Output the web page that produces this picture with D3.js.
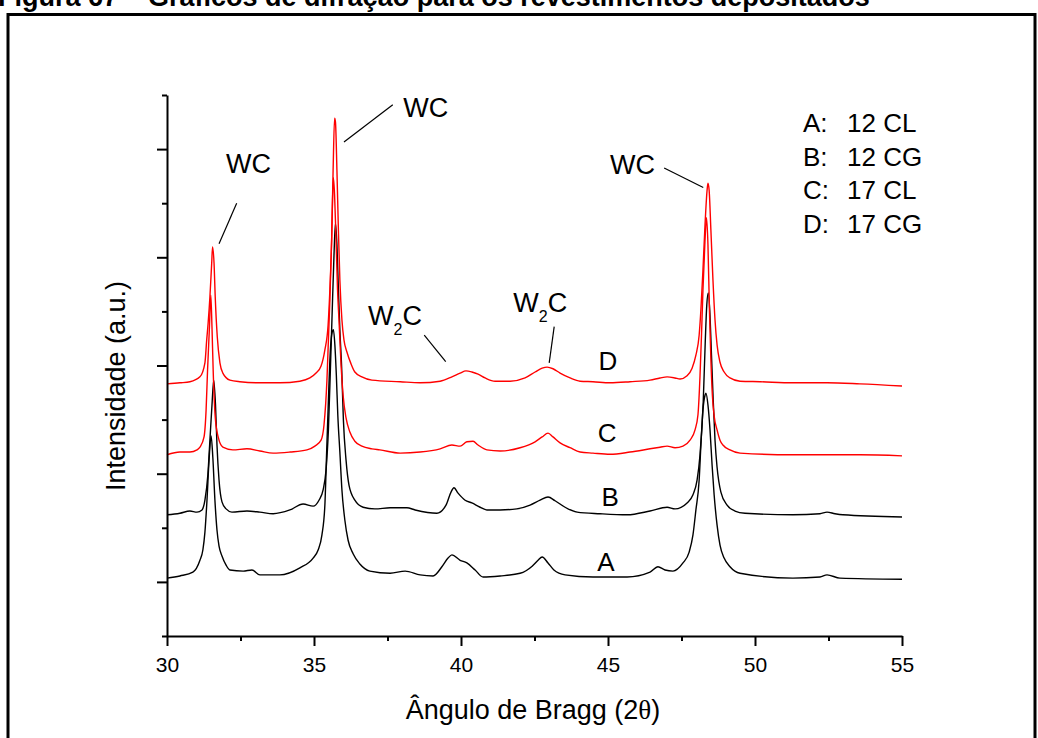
<!DOCTYPE html>
<html><head><meta charset="utf-8">
<script src="https://cdn.jsdelivr.net/npm/d3@7"></script>
<style>
html,body{margin:0;padding:0;background:#fff;}
svg{display:block;font-family:"Liberation Sans",Arial,sans-serif;}
</style></head><body>
<svg id="chart" width="1038" height="738"></svg>
<script>
// ---- data (2θ in degrees, intensity in arbitrary units, curves offset) ----
const xTicks = [30, 35, 40, 45, 50, 55];
const xMinorTicks = [32.5, 37.5, 42.5, 47.5, 52.5];
const yMajorTicks = [1, 3, 5, 7, 9];
const yMinorTicks = [0, 2, 4, 6, 8, 10];

const seriesA = [[30.00,1.07],[30.44,1.11],[30.88,1.18],[31.12,1.40],[31.22,1.59],[31.29,1.92],[31.36,2.51],[31.43,3.25],[31.50,3.70],[31.56,3.29],[31.63,2.51],[31.70,1.96],[31.77,1.66],[31.87,1.48],[32.01,1.31],[32.14,1.22],[32.59,1.20],[32.89,1.22],[33.16,1.13],[33.84,1.13],[34.52,1.26],[34.97,1.44],[35.14,1.59],[35.27,1.87],[35.37,2.42],[35.43,3.40],[35.49,4.36],[35.54,5.10],[35.60,5.56],[35.66,5.66],[35.71,5.38],[35.76,4.82],[35.81,4.08],[35.88,3.40],[35.95,2.70],[36.05,2.14],[36.16,1.77],[36.33,1.52],[36.56,1.33],[36.90,1.20],[37.59,1.16],[38.10,1.20],[38.61,1.13],[39.05,1.11],[39.35,1.28],[39.56,1.44],[39.69,1.50],[39.97,1.40],[40.20,1.35],[40.48,1.22],[40.75,1.09],[41.33,1.11],[42.01,1.16],[42.42,1.29],[42.62,1.40],[42.76,1.46],[42.96,1.35],[43.16,1.22],[43.54,1.13],[44.49,1.09],[45.65,1.09],[46.43,1.18],[46.70,1.28],[46.94,1.22],[47.21,1.20],[47.55,1.35],[47.76,1.55],[47.89,1.87],[47.99,2.33],[48.10,2.88],[48.16,3.53],[48.23,4.18],[48.30,4.45],[48.33,4.49],[48.40,4.27],[48.47,3.81],[48.54,3.16],[48.61,2.61],[48.71,2.05],[48.81,1.68],[48.95,1.44],[49.15,1.28],[49.49,1.16],[51.29,1.07],[52.21,1.09],[52.45,1.13],[52.89,1.07],[55.00,1.05]];

const seriesB = [[30.00,2.24],[30.44,2.27],[30.78,2.31],[31.02,2.29],[31.19,2.33],[31.29,2.51],[31.39,2.98],[31.46,3.62],[31.53,4.27],[31.59,4.73],[31.65,4.27],[31.70,3.53],[31.77,2.88],[31.87,2.48],[32.01,2.35],[32.21,2.29],[32.72,2.31],[33.16,2.29],[33.61,2.26],[34.18,2.33],[34.63,2.44],[34.97,2.40],[35.17,2.51],[35.31,2.70],[35.41,3.07],[35.49,3.81],[35.56,4.97],[35.61,5.84],[35.68,7.04],[35.73,7.63],[35.78,7.23],[35.83,6.40],[35.88,5.66],[35.94,4.97],[36.00,3.99],[36.09,3.25],[36.19,2.79],[36.39,2.51],[36.67,2.38],[37.07,2.35],[37.59,2.37],[38.16,2.37],[38.44,2.33],[39.18,2.27],[39.49,2.42],[39.66,2.66],[39.76,2.74],[39.90,2.64],[40.14,2.51],[40.37,2.46],[40.65,2.38],[40.88,2.33],[41.33,2.33],[41.90,2.35],[42.35,2.42],[42.69,2.51],[42.96,2.57],[43.20,2.50],[43.54,2.38],[43.95,2.29],[44.73,2.26],[45.65,2.24],[46.43,2.31],[47.01,2.38],[47.28,2.35],[47.69,2.46],[47.89,2.61],[48.03,2.88],[48.13,3.35],[48.24,4.34],[48.31,5.47],[48.36,6.12],[48.41,6.34],[48.47,5.93],[48.52,5.19],[48.58,4.34],[48.64,3.62],[48.71,3.12],[48.84,2.66],[49.05,2.42],[49.32,2.31],[49.66,2.27],[51.29,2.24],[52.21,2.26],[52.45,2.29],[52.72,2.26],[52.99,2.24],[55.00,2.20]];

const seriesC = [[30.00,3.35],[30.44,3.40],[30.78,3.40],[31.02,3.44],[31.12,3.49],[31.26,3.68],[31.33,4.18],[31.38,4.92],[31.44,5.66],[31.49,6.30],[31.53,5.71],[31.57,4.92],[31.64,4.05],[31.74,3.68],[31.90,3.49],[32.24,3.44],[32.72,3.46],[33.16,3.42],[33.61,3.38],[34.18,3.40],[34.76,3.44],[35.03,3.51],[35.24,3.62],[35.34,3.90],[35.44,4.73],[35.49,5.47],[35.54,6.21],[35.60,7.32],[35.63,8.06],[35.66,8.47],[35.70,8.15],[35.75,7.32],[35.80,6.40],[35.85,5.84],[35.92,5.01],[35.99,4.45],[36.09,4.03],[36.22,3.77],[36.39,3.60],[36.63,3.51],[36.97,3.46],[37.24,3.44],[37.93,3.38],[38.61,3.40],[39.29,3.46],[39.69,3.53],[39.97,3.51],[40.20,3.59],[40.41,3.60],[40.58,3.53],[40.88,3.44],[41.33,3.42],[42.01,3.48],[42.52,3.59],[42.76,3.68],[42.96,3.75],[43.13,3.68],[43.37,3.57],[43.71,3.48],[44.05,3.40],[44.49,3.38],[45.07,3.36],[45.75,3.40],[46.43,3.46],[46.77,3.49],[47.01,3.51],[47.28,3.48],[47.55,3.51],[47.79,3.62],[47.96,3.81],[48.06,4.09],[48.13,4.81],[48.18,5.56],[48.23,6.40],[48.30,7.32],[48.35,7.73],[48.40,7.23],[48.45,6.03],[48.50,5.10],[48.55,4.45],[48.61,4.07],[48.71,3.81],[48.81,3.62],[48.91,3.53],[49.15,3.44],[49.49,3.38],[51.29,3.35],[53.57,3.35],[55.00,3.33]];

const seriesD = [[30.00,4.66],[30.44,4.68],[30.78,4.70],[31.12,4.79],[31.29,5.05],[31.35,5.47],[31.40,5.79],[31.46,6.27],[31.52,6.89],[31.55,7.19],[31.60,6.89],[31.64,6.27],[31.71,5.53],[31.80,5.05],[31.90,4.86],[32.14,4.73],[32.48,4.70],[33.16,4.68],[33.84,4.68],[34.52,4.71],[34.86,4.77],[35.07,4.86],[35.24,4.99],[35.37,5.29],[35.48,5.75],[35.54,6.40],[35.60,7.32],[35.65,8.61],[35.70,9.57],[35.73,9.50],[35.78,8.61],[35.83,7.50],[35.88,6.58],[35.95,5.84],[36.02,5.47],[36.12,5.25],[36.26,5.03],[36.39,4.88],[36.63,4.79],[36.97,4.73],[37.93,4.70],[38.61,4.68],[39.29,4.71],[39.69,4.79],[39.97,4.86],[40.17,4.90],[40.37,4.88],[40.58,4.84],[40.82,4.77],[41.16,4.71],[41.67,4.71],[42.18,4.77],[42.52,4.88],[42.76,4.95],[42.93,4.97],[43.13,4.94],[43.37,4.86],[43.71,4.77],[44.05,4.71],[44.49,4.70],[45.07,4.68],[45.75,4.70],[46.43,4.73],[46.77,4.77],[47.01,4.79],[47.28,4.77],[47.45,4.75],[47.69,4.81],[47.86,4.95],[47.99,5.19],[48.10,5.56],[48.16,6.03],[48.23,6.77],[48.30,7.60],[48.37,8.24],[48.40,8.37],[48.44,8.24],[48.50,7.50],[48.57,6.58],[48.64,5.84],[48.71,5.38],[48.81,5.06],[48.95,4.88],[49.15,4.77],[49.49,4.71],[50.17,4.70],[51.29,4.68],[52.45,4.68],[53.57,4.66],[55.00,4.62]];

const curveNames = ["A", "B", "C", "D"];
const curveColors = ["#000000", "#000000", "#ff0000", "#ff0000"];
const curveLabelPos = [[44.93, 1.20], [45.07, 2.40], [44.97, 3.59], [45.00, 4.92]];
const legendLetters = ["A:", "B:", "C:", "D:"];
const legendTexts = ["12 CL", "12 CG", "17 CL", "17 CG"];

// peak annotations: label anchor (θ, I), leader line from -> to
const wcLabels = [[32.77, 8.55], [38.80, 9.60], [45.83, 8.54]];
const wcLines = [[[32.37, 8.00], [31.77, 7.25]], [[37.68, 9.82], [36.02, 9.13]], [[46.91, 8.65], [48.24, 8.29]]];
const w2cLabels = [[36.84, 5.75], [41.78, 5.98]];
const w2cLines = [[[38.75, 5.56], [39.48, 5.07]], [[43.17, 5.72], [43.00, 5.05]]];

// ---- drawing ----
const svg = d3.select("#chart");
const FONT = '"Liberation Sans", Arial, sans-serif';

// title (partially cut off at top, as in the source) and frame
svg.append("text").attr("x", -2).attr("y", 6)
  .attr("font-weight", "bold").attr("font-size", 27).attr("fill", "#000")
  .text("Figura 67 – Gráficos de difração para os revestimentos depositados");
svg.append("rect").attr("x", 8).attr("y", 14.5).attr("width", 1027).attr("height", 800)
  .attr("fill", "none").attr("stroke", "#000").attr("stroke-width", 3);

const x = d3.scaleLinear().domain([30, 55]).range([167, 902]);
const y = d3.scaleLinear().domain([0, 10]).range([636, 95]);

// curves
const line = d3.line().x(d => x(d[0])).y(d => y(d[1])).curve(d3.curveMonotoneX);
const allSeries = [seriesA, seriesB, seriesC, seriesD];
svg.append("g").selectAll("path").data(allSeries).join("path")
  .attr("d", line).attr("fill", "none")
  .attr("stroke", (d, i) => curveColors[i]).attr("stroke-width", 1.4)
  .attr("stroke-linejoin", "round");

// axes
function styleAxis(g) {
  g.selectAll("path.domain").attr("stroke", "#000").attr("stroke-width", 2);
  g.selectAll(".tick line").attr("stroke", "#000").attr("stroke-width", 2);
}
const gx = svg.append("g").attr("transform", `translate(0,${y(0)})`)
  .call(d3.axisBottom(x).tickValues(xTicks).tickSize(10).tickSizeOuter(0).tickPadding(11).tickFormat(d3.format("d")));
styleAxis(gx);
gx.selectAll("text").attr("font-size", 21).attr("font-family", FONT).attr("fill", "#000");
const gxm = svg.append("g").attr("transform", `translate(0,${y(0)})`)
  .call(d3.axisBottom(x).tickValues(xMinorTicks).tickSize(5).tickSizeOuter(0).tickFormat(""));
gxm.select("path.domain").remove();
styleAxis(gxm);

const gy = svg.append("g").attr("transform", `translate(${x(30)},0)`)
  .call(d3.axisLeft(y).tickValues(yMajorTicks).tickSize(10).tickSizeOuter(0).tickFormat(""));
styleAxis(gy);
const gym = svg.append("g").attr("transform", `translate(${x(30)},0)`)
  .call(d3.axisLeft(y).tickValues(yMinorTicks).tickSize(5).tickSizeOuter(0).tickFormat(""));
gym.select("path.domain").remove();
styleAxis(gym);

// axis titles
const xt = svg.append("text").attr("x", 533).attr("y", 719).attr("text-anchor", "middle")
  .attr("font-size", 27).attr("fill", "#000");
xt.append("tspan").text("Ângulo de Bragg (2");
xt.append("tspan").attr("font-family", '"Liberation Serif", "DejaVu Serif", serif').text("θ");
xt.append("tspan").text(")");

svg.append("text").attr("transform", "translate(125,386) rotate(-90)")
  .attr("text-anchor", "middle").attr("font-size", 27).attr("fill", "#000")
  .text("Intensidade (a.u.)");

// curve letters
svg.append("g").selectAll("text").data(curveLabelPos).join("text")
  .attr("x", d => x(d[0])).attr("y", d => y(d[1])).attr("text-anchor", "middle")
  .attr("font-size", 26).attr("fill", "#000").text((d, i) => curveNames[i]);

// legend
const lg = svg.append("g");
legendLetters.forEach((t, i) => {
  const tx = lg.append("text").attr("y", 132 + i * 33.7).attr("font-size", 26).attr("fill", "#000");
  tx.append("tspan").attr("x", 803).text(t);
  tx.append("tspan").attr("x", 847).text(legendTexts[i]);
});

// annotations
const ann = svg.append("g");
ann.selectAll("text.wc").data(wcLabels).join("text").attr("class", "wc")
  .attr("x", d => x(d[0])).attr("y", d => y(d[1])).attr("text-anchor", "middle")
  .attr("font-size", 27).attr("fill", "#000").text("WC");
ann.selectAll("line.l").data(wcLines.concat(w2cLines)).join("line").attr("class", "l")
  .attr("x1", d => x(d[0][0])).attr("y1", d => y(d[0][1]))
  .attr("x2", d => x(d[1][0])).attr("y2", d => y(d[1][1]))
  .attr("stroke", "#000").attr("stroke-width", 1.2);
w2cLabels.forEach(d => {
  const t = ann.append("text").attr("x", x(d[0])).attr("y", y(d[1])).attr("font-size", 27).attr("fill", "#000");
  t.append("tspan").text("W");
  t.append("tspan").attr("font-size", 16).attr("dy", 10).text("2");
  t.append("tspan").attr("dy", -10).text("C");
});
</script>
</body></html>
